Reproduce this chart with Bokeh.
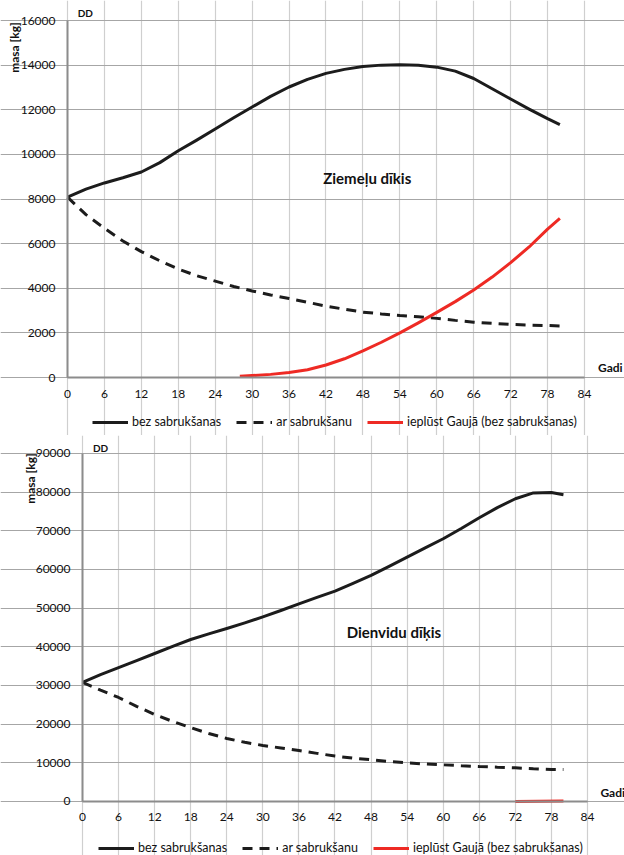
import math

from bokeh.plotting import figure
from bokeh.models import Legend, LegendItem, Label, Range1d, FixedTicker
from bokeh.embed import file_html
from bokeh.resources import INLINE

# Years (Gadi)
years = [0, 3, 6, 9, 12, 15, 18, 21, 24, 27, 30, 33, 36, 39, 42, 45, 48, 51,
         54, 57, 60, 63, 66, 69, 72, 75, 78, 80]

# Ziemeļu dīķis, DD mass [kg]
north_no_decay = [8080, 8440, 8720, 8950, 9210, 9630, 10160, 10640, 11140, 11640,
                  12120, 12600, 13020, 13360, 13630, 13810, 13940, 14000, 14020,
                  13990, 13910, 13730, 13400, 12940, 12480, 12030, 11600, 11330]
north_decay = [8080, 7300, 6690, 6120, 5640, 5230, 4860, 4560, 4320, 4080, 3880,
               3700, 3540, 3370, 3200, 3060, 2930, 2850, 2780, 2720, 2650, 2560,
               2480, 2430, 2380, 2350, 2330, 2310]
north_out_years = [28, 30, 33, 36, 39, 42, 45, 48, 51, 54, 57, 60, 63, 66, 69,
                   72, 75, 78, 80]
north_out = [60, 90, 140, 220, 350, 560, 840, 1190, 1580, 2000, 2450, 2920, 3400,
             3920, 4500, 5150, 5850, 6650, 7130]

# Dienvidu dīķis, DD mass [kg]
south_no_decay = [30800, 32800, 34600, 36450, 38270, 40100, 41890, 43350, 44740,
                  46200, 47750, 49400, 51100, 52800, 54400, 56400, 58470, 60800,
                  63200, 65600, 67960, 70600, 73400, 76000, 78300, 79800, 79900,
                  79330]
south_decay = [30800, 28800, 26900, 24600, 22500, 20700, 19100, 17600, 16300,
               15300, 14500, 13850, 13200, 12450, 11750, 11200, 10800, 10350,
               10000, 9700, 9480, 9250, 9050, 8870, 8700, 8480, 8280, 8250]
south_out_years = [72, 76, 80]
south_out = [30, 80, 150]

x_max = 84
x_ticks = list(range(0, 85, 6))
north_y_max = 16000
north_y_ticks = list(range(0, 16001, 2000))
south_y_max = 90000
south_y_ticks = list(range(0, 90001, 10000))

series_labels = ["bez sabrukšanas", "ar sabrukšanu", "ieplūst Gaujā (bez sabrukšanas)"]

FONT = "Lato"
BLACK = "#1c1c1c"
RED = "#ee2a24"
INK = "#111111"


def make_chart(size, x_view, y_view, y_max, y_ticks, no_decay, decay, out_x, out_y,
               title, title_xy, dd_xy, gadi_xy, masa_xy, legend_loc):
    # The drawing area fills the whole figure; the axes are pinned at 0 and
    # bounded, which leaves room inside for the labels and the legend.
    p = figure(frame_width=size[0], frame_height=size[1], output_backend="svg",
               toolbar_location=None, x_range=Range1d(*x_view),
               y_range=Range1d(*y_view),
               min_border_left=0, min_border_right=0,
               min_border_top=0, min_border_bottom=0)
    p.background_fill_color = "white"
    p.border_fill_color = "white"
    p.outline_line_color = None

    p.xaxis.fixed_location = 0
    p.yaxis.fixed_location = 0
    p.xaxis.ticker = FixedTicker(ticks=x_ticks)
    p.yaxis.ticker = FixedTicker(ticks=y_ticks)
    p.xaxis.bounds = (0, x_max)
    p.yaxis.bounds = (0, y_max)
    p.xgrid.ticker = FixedTicker(ticks=x_ticks)
    p.ygrid.ticker = FixedTicker(ticks=y_ticks)
    p.xgrid.bounds = (0, y_max)
    p.ygrid.bounds = (0, x_max)
    p.xgrid.grid_line_color = "#cfcfcf"
    p.ygrid.grid_line_color = "#a6a6a6"
    p.xgrid.grid_line_width = 1.2
    p.ygrid.grid_line_width = 1.2

    for ax in (p.xaxis, p.yaxis):
        ax.axis_line_color = "#8c8c8c"
        ax.axis_line_width = 2
        ax.major_tick_line_color = None
        ax.minor_tick_line_color = None
        ax.major_tick_out = 0
        ax.major_label_text_font = FONT
        ax.major_label_text_font_size = "12px"
        ax.major_label_text_color = INK
        ax.major_label_standoff = 12
    p.yaxis.formatter.use_scientific = False

    r1 = p.line(years, no_decay, line_color=BLACK, line_width=3, line_join="round")
    r2 = p.line(years, decay, line_color=BLACK, line_width=3, line_dash="10 7")
    r3 = p.line(out_x, out_y, line_color=RED, line_width=3, line_join="round")

    legend = Legend(items=[LegendItem(label=series_labels[0], renderers=[r1]),
                           LegendItem(label=series_labels[1], renderers=[r2]),
                           LegendItem(label=series_labels[2], renderers=[r3])],
                    orientation="horizontal", location=legend_loc,
                    border_line_color=None, background_fill_alpha=0,
                    label_text_font=FONT, label_text_font_size="12.5px",
                    label_text_color=INK,
                    glyph_width=36, glyph_height=14, label_standoff=4,
                    spacing=15, padding=0, margin=0)
    p.add_layout(legend)

    p.add_layout(Label(x=title_xy[0], y=title_xy[1], text=title,
                       text_font=FONT, text_font_size="15px",
                       text_font_style="bold", text_align="center",
                       text_baseline="middle", text_color=INK))
    p.add_layout(Label(x=dd_xy[0], y=dd_xy[1], text="DD", text_font=FONT,
                       text_font_size="10px", text_font_style="bold",
                       text_align="center", text_baseline="middle",
                       text_color=INK))
    p.add_layout(Label(x=gadi_xy[0], y=gadi_xy[1], text="Gadi", text_font=FONT,
                       text_font_size="12px", text_font_style="bold",
                       text_align="center", text_baseline="middle",
                       text_color=INK))
    p.add_layout(Label(x=masa_xy[0], y=masa_xy[1], text="masa [kg]",
                       text_font=FONT, text_font_size="12px",
                       text_font_style="bold", angle=math.pi / 2,
                       text_align="center", text_baseline="middle",
                       text_color=INK))
    return p


p_north = make_chart((624, 435), (-10.886, 90.50), (-2599.4, 16896.4),
                     north_y_max, north_y_ticks, north_no_decay, north_decay,
                     north_out_years, north_out, "Ziemeļu dīkis", (48.7, 8920),
                     (2.9, 16315), (88.2, 450), (-8.6, 14790), (92, 6))
p_south = make_chart((624, 420), (-13.64, 90.155), (-13966, 94655),
                     south_y_max, south_y_ticks, south_no_decay, south_decay,
                     south_out_years, south_out, "Dienvidu dīķis", (51.8, 43960),
                     (3.0, 91540), (88.2, 2300), (-8.65, 83530), (98, 0))

open("out.html", "w").write(file_html([p_north, p_south], INLINE))
